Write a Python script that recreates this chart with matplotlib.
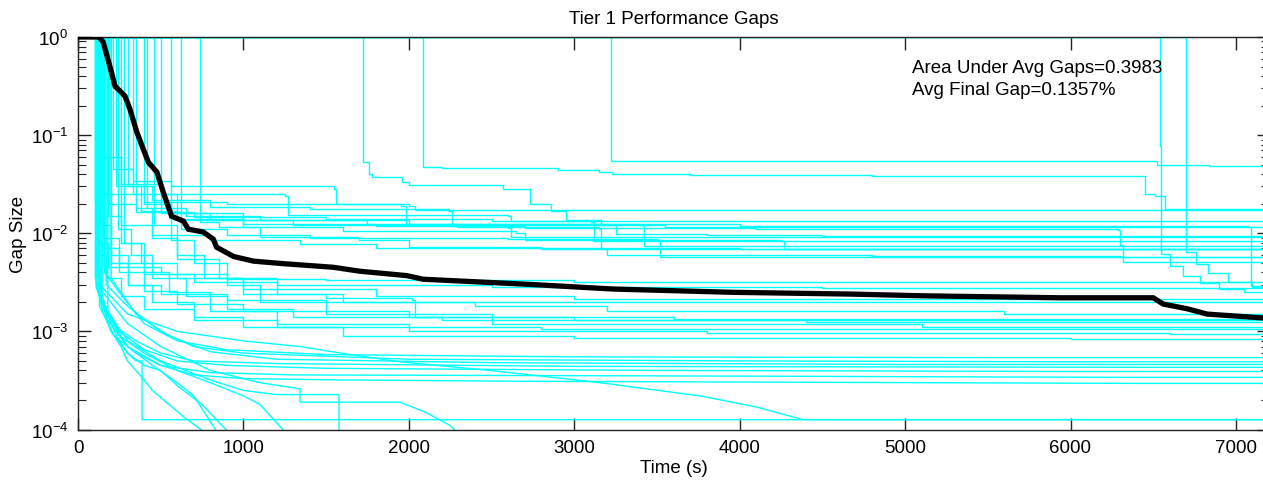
import numpy as np
import matplotlib
matplotlib.use('Agg')
import matplotlib.pyplot as plt
from matplotlib.ticker import FixedLocator, FuncFormatter, LogLocator, NullFormatter

plt.rcParams['font.family'] = ['Liberation Sans', 'DejaVu Sans']
plt.rcParams['mathtext.fontset'] = 'custom'
plt.rcParams['mathtext.rm'] = 'Liberation Sans'

# --- data: (time in s, gap) breakpoints of each run ---
late_runs = [
    [(0, 1.0), (6542, 0.077), (6548, 0.0062), (6600, 0.0046), (6680, 0.0037), (6780, 0.0031), (6900, 0.0027), (7050, 0.0025)],
    [(0, 1.0), (6700, 0.0064), (6760, 0.0049), (6830, 0.0039), (6950, 0.0032), (7100, 0.0028)],
]

upper_runs = [
    [(0, 1.0), (1723, 0.053), (1760, 0.040), (1780, 0.037), (1960, 0.033), (2000, 0.031), (2570, 0.028),
     (2733, 0.020), (2860, 0.017), (2950, 0.0135), (3160, 0.012), (3250, 0.0098), (3800, 0.0095), (4500, 0.0093)],
    [(0, 1.0), (2086, 0.047), (2200, 0.046), (2900, 0.044), (3150, 0.042), (3230, 0.040), (3700, 0.039),
     (4800, 0.038), (6450, 0.025), (6510, 0.024), (6570, 0.0175)],
    [(0, 1.0), (3222, 0.055), (3960, 0.054), (6520, 0.050), (6840, 0.049)],
]

upper_mid_runs = [
    [(0, 1.0), (210, 0.045), (330, 0.034), (560, 0.030), (1550, 0.028), (1560, 0.020), (2000, 0.019), (2040, 0.0172)],
    [(0, 1.0), (160, 0.06), (260, 0.032), (500, 0.025), (1250, 0.024), (1270, 0.0155), (2600, 0.015), (2620, 0.0133)],
    [(0, 1.0), (140, 0.025), (400, 0.021), (900, 0.020), (1950, 0.019), (1980, 0.0122), (3500, 0.0120), (3550, 0.0115)],
    [(0, 1.0), (300, 0.03), (450, 0.022), (800, 0.0185), (1400, 0.0175), (2240, 0.0170), (2260, 0.0118),
     (2600, 0.0112), (2620, 0.0091)],
    [(0, 1.0), (190, 0.02), (350, 0.0165), (700, 0.0145), (1500, 0.014), (2500, 0.0132), (3100, 0.013), (3120, 0.0083)],
    [(0, 1.0), (420, 0.018), (650, 0.015), (1100, 0.0135), (1750, 0.0125), (3400, 0.012), (3420, 0.0075)],
    [(0, 1.0), (500, 0.016), (800, 0.0135), (1300, 0.012), (2300, 0.0115), (3150, 0.011), (3160, 0.0069)],
    [(0, 1.0), (560, 0.014), (1000, 0.0125), (1800, 0.0118), (2700, 0.0113), (4100, 0.011), (6290, 0.0108),
     (6300, 0.0076), (6320, 0.0051)],
    [(0, 1.0), (230, 0.03), (380, 0.017), (600, 0.0135), (1000, 0.0115), (1600, 0.0105), (2650, 0.010),
     (2700, 0.0086), (4250, 0.0083), (4270, 0.0069)],
    [(0, 1.0), (620, 0.011), (900, 0.0095), (1400, 0.009), (2600, 0.0088), (3500, 0.0086), (3520, 0.0057)],
    [(0, 1.0), (260, 0.012), (450, 0.0095), (800, 0.0085), (1343, 0.0078), (1800, 0.0071), (4000, 0.0069)],
    [(0, 1.0), (740, 0.013), (850, 0.0115), (1100, 0.0092), (1700, 0.0085), (2000, 0.0072), (2800, 0.0069),
     (3200, 0.0060), (4800, 0.0058), (6300, 0.0057)],
    [(0, 1.0), (330, 0.025), (600, 0.016), (1000, 0.0135), (2000, 0.0125), (4000, 0.0118), (7080, 0.0115), (7090, 0.0029)],
]

mid_runs = [
    [(0, 1.0), (130, 0.012), (200, 0.006), (300, 0.0045), (500, 0.0038), (900, 0.0034), (1500, 0.0033), (3000, 0.0032)],
    [(0, 1.0), (150, 0.009), (250, 0.005), (400, 0.0038), (700, 0.0032), (1200, 0.0030), (2500, 0.0028), (4500, 0.00275)],
    [(0, 1.0), (180, 0.015), (260, 0.008), (380, 0.005), (600, 0.0035), (1000, 0.0027), (1800, 0.0023),
     (3000, 0.00215), (5000, 0.00212)],
    [(0, 1.0), (120, 0.008), (180, 0.0045), (300, 0.003), (500, 0.0024), (900, 0.0021), (1500, 0.002), (4000, 0.00198)],
    [(0, 1.0), (350, 0.018), (450, 0.009), (600, 0.0055), (850, 0.0035), (1200, 0.0024), (1600, 0.002),
     (2400, 0.0018), (3200, 0.0016), (5600, 0.00149)],
    [(0, 1.0), (100, 0.02), (160, 0.007), (250, 0.004), (400, 0.0026), (600, 0.0019), (1000, 0.0016),
     (2000, 0.0014), (3600, 0.00135), (6000, 0.00133)],
    [(0, 1.0), (240, 0.011), (320, 0.006), (450, 0.0035), (650, 0.0023), (900, 0.0017), (1300, 0.0014),
     (2200, 0.0013), (4400, 0.00125)],
    [(0, 1.0), (400, 0.02), (560, 0.0085), (700, 0.005), (900, 0.003), (1100, 0.002), (1500, 0.0015),
     (2500, 0.0012), (5100, 0.00112)],
    [(0, 1.0), (110, 0.006), (170, 0.0035), (260, 0.0023), (400, 0.0017), (700, 0.0013), (1200, 0.0011),
     (2800, 0.00106), (5800, 0.00105)],
    [(0, 1.0), (280, 0.008), (400, 0.004), (550, 0.0025), (800, 0.0016), (1200, 0.0012), (2000, 0.001),
     (3800, 0.00096), (6600, 0.00095)],
    [(0, 1.0), (200, 0.005), (300, 0.003), (450, 0.002), (700, 0.0014), (1000, 0.0011), (1600, 0.0009),
     (3000, 0.00085), (6000, 0.00083)],
    [(0, 1.0), (460, 0.012), (600, 0.006), (760, 0.0035), (1000, 0.0024), (1500, 0.0022), (2020, 0.0021),
     (2040, 0.0014), (3000, 0.0013)],
]

low_runs = [
    [(0, 1.0), (160, 0.004), (250, 0.0025), (400, 0.0012), (600, 0.0008), (900, 0.00065), (1500, 0.00058),
     (3000, 0.00055), (5500, 0.00054)],
    [(0, 1.0), (170, 0.003), (300, 0.0018), (500, 0.001), (700, 0.0007), (1000, 0.0006), (2000, 0.00052),
     (4000, 0.0005), (6000, 0.00049)],
    [(0, 1.0), (200, 0.0035), (350, 0.0015), (550, 0.0009), (800, 0.00062), (1200, 0.00052), (2500, 0.00048),
     (5000, 0.00046)],
    [(0, 1.0), (110, 0.0028), (200, 0.0012), (350, 0.0008), (500, 0.0006), (700, 0.0005), (1200, 0.00047),
     (3000, 0.00044), (6500, 0.00043)],
    [(0, 1.0), (140, 0.0022), (250, 0.001), (400, 0.00065), (600, 0.0005), (900, 0.00045), (1500, 0.00042),
     (3500, 0.0004), (6000, 0.00039)],
    [(0, 1.0), (130, 0.0018), (220, 0.0009), (350, 0.0006), (500, 0.00045), (800, 0.00038), (1300, 0.00036),
     (4000, 0.00035), (6300, 0.00034)],
    [(0, 1.0), (180, 0.0015), (300, 0.0007), (500, 0.00045), (700, 0.00036), (1000, 0.00033), (1600, 0.00032),
     (2700, 0.00031), (6400, 0.000295)],
    [(0, 1.0), (120, 0.004), (150, 0.0022), (200, 0.0012), (250, 0.0008), (300, 0.0006), (350, 0.0005),
     (387, 0.0005), (387, 0.000126)],
    [(0, 1.0), (110, 0.003), (150, 0.0016), (200, 0.001), (260, 0.0007), (300, 0.0005), (380, 0.00035),
     (450, 0.00025), (550, 0.00018), (650, 0.00013), (780, 0.00009)],
    [(0, 1.0), (105, 0.0035), (180, 0.0013), (300, 0.0007), (450, 0.00045), (600, 0.0003), (700, 0.00022), (848, 0.00009)],
    [(0, 1.0), (115, 0.0028), (200, 0.001), (300, 0.0006), (400, 0.00045), (500, 0.0004), (600, 0.00028),
     (750, 0.00018), (919, 0.00009)],
    [(0, 1.0), (125, 0.0025), (250, 0.0009), (400, 0.0006), (600, 0.0004), (800, 0.0003), (1000, 0.00022),
     (1100, 0.00018), (1263, 0.00009)],
    [(0, 1.0), (140, 0.002), (300, 0.0008), (500, 0.0005), (800, 0.00032), (1000, 0.00025), (1200, 0.000227),
     (1578, 0.000227), (1578, 0.00009)],
    [(0, 1.0), (130, 0.003), (300, 0.0015), (600, 0.001), (1000, 0.0008), (1342, 0.0007), (1645, 0.00058),
     (1947, 0.00049), (2551, 0.00039), (3156, 0.0003), (3761, 0.00022), (4100, 0.00017), (4383, 0.000126)],
    [(0, 1.0), (150, 0.0025), (300, 0.0012), (500, 0.0007), (800, 0.0004), (1100, 0.0003), (1342, 0.00026),
     (1342, 0.00019), (1947, 0.00019), (2100, 0.00015), (2250, 0.00011), (2300, 0.00009)],
]

avg_time = [0, 127, 152, 193, 224, 284, 314, 356, 425, 477, 516, 566, 637, 667, 757, 818, 838, 940, 1060,
            1240, 1543, 1705, 1988, 2086, 2751, 3235, 3961, 4667, 5133, 5937, 6500, 6560, 6705, 6826, 7200]
avg_gap = [1.0, 1.0, 0.89, 0.5, 0.316, 0.25, 0.184, 0.107, 0.053, 0.042, 0.026, 0.0149, 0.0133, 0.011,
           0.0103, 0.0087, 0.0072, 0.0058, 0.0052, 0.0049, 0.0045, 0.0041, 0.0037, 0.0034, 0.0030, 0.0027,
           0.0025, 0.0024, 0.0023, 0.0022, 0.0022, 0.0019, 0.0017, 0.0015, 0.001357]

area_under = 0.3983
final_gap_pct = 0.1357
t_end = 7200


def run_path(run, smooth):
    """Turns breakpoints into a plottable path: vertical first drop, then steps or straight pieces."""
    t0, g0 = run[0]
    t1, g1 = run[1]
    t = [t0, t1]
    g = [g0, g0]
    prev_g = g0
    for ti, gi in run[1:]:
        if not smooth:
            t.append(ti)
            g.append(prev_g)
        t.append(ti)
        g.append(gi)
        prev_g = gi
    t.append(t_end)
    g.append(prev_g)
    return t, g


W, H = 1263, 485
fig = plt.figure(figsize=(W / 100, H / 100), dpi=100)
ax = fig.add_axes([78 / W, 1 - 430.5 / H, 1191 / W, 392.5 / H])

for group, smooth in [(late_runs, False), (upper_runs, False), (upper_mid_runs, False),
                      (mid_runs, False), (low_runs, True)]:
    for run in group:
        t, g = run_path(run, smooth)
        ax.plot(t, g, color='cyan', lw=1.0, zorder=2)

ax.plot(avg_time, avg_gap, color='black', lw=3.8, zorder=3, solid_joinstyle='miter')

ax.set_yscale('log')
ax.set_xlim(0, t_end)
ax.set_ylim(1e-4, 1)
ax.xaxis.set_major_locator(FixedLocator(np.arange(0, 8000, 1000)))
ax.yaxis.set_major_locator(FixedLocator([1e-4, 1e-3, 1e-2, 1e-1, 1]))
ax.yaxis.set_minor_locator(LogLocator(base=10, subs=np.arange(2, 10)))
ax.yaxis.set_minor_formatter(NullFormatter())
ax.yaxis.set_major_formatter(FuncFormatter(
    lambda v, p: r'$\mathregular{10^{%d}}$' % int(round(np.log10(v)))))

fs = 13.5
ax.tick_params(which='both', direction='in', top=True, right=True, labelsize=fs, color='#222222')
ax.tick_params(which='major', length=9, width=1.0, pad=7)
ax.tick_params(which='minor', length=6, width=0.8)
for s in ax.spines.values():
    s.set_linewidth(1.0)
    s.set_color('#222222')

ax.set_title('Tier 1 Performance Gaps', fontsize=fs, pad=10)
ax.set_xlabel('Time (s)', fontsize=fs, labelpad=2)
ax.set_ylabel('Gap Size', fontsize=fs, labelpad=3)

fig.text(912 / W, 1 - 73 / H, 'Area Under Avg Gaps=%.4f' % area_under, fontsize=fs, va='baseline')
fig.text(912 / W, 1 - 95 / H, 'Avg Final Gap=%.4f%%' % final_gap_pct, fontsize=fs, va='baseline')

fig.savefig('out.png', dpi=100)
